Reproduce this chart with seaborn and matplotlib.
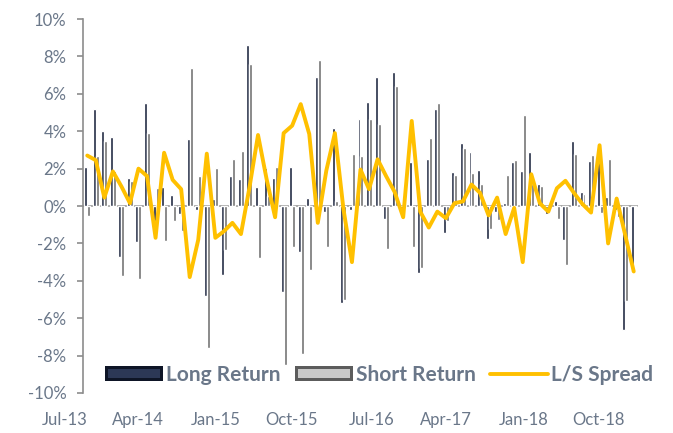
import numpy as np
import pandas as pd
import seaborn as sns
import matplotlib.pyplot as plt
from matplotlib.patches import Rectangle, Patch
from matplotlib.lines import Line2D
from matplotlib.legend_handler import HandlerBase

# monthly returns (%), Jul-13 .. Nov-18
months = pd.date_range('2013-07-01', periods=65, freq='MS').strftime('%b-%y').tolist()

long_ret = [2.1, 5.2, 4.0, 3.7, -2.7, 1.5, -1.9, 5.5, -0.8, 1.0,
            0.6, -0.45, 3.6, -0.2, -4.8, 0.35, -3.7, 1.6, 1.45, 8.6,
            1.0, 2.05, 1.5, -4.6, 2.1, -2.45, 0.45, 6.9, -0.3, 4.15,
            -5.2, -0.2, 4.65, 5.55, 6.9, -0.7, 7.15, -0.3, 2.35, -3.6,
            2.5, 5.2, -1.45, 1.8, 3.35, 2.9, 1.9, -1.75, -0.3, 0.15,
            2.35, 1.85, 2.9, 1.2, -0.4, 0.25, -1.8, 3.5, 0.75, 2.4,
            2.9, 0.5, -0.2, -6.65, -3.5]

short_ret = [-0.55, 2.7, 3.5, 1.85, -3.75, 1.35, -3.9, 3.9, 0.95, -1.85,
             -0.8, -1.35, 7.4, 1.6, -7.6, 2.05, -2.35, 2.5, 2.95, 7.6,
             -2.8, 0.55, 2.1, -8.5, -2.2, -7.9, -3.4, 7.8, -2.2, 0.25,
             -5.05, 2.8, 2.7, 4.65, 4.4, -2.3, 6.4, 0.3, -2.2, -3.3,
             3.65, 5.5, -0.8, 1.65, 3.1, 1.75, 1.2, -1.25, -0.75, 1.65,
             2.45, 4.85, 1.2, 1.05, -0.1, -0.7, -3.15, 2.8, 0.65, 2.75,
             -0.35, 2.5, -0.6, -5.1, 0.0]

spread = [2.7, 2.45, 0.45, 1.85, 1.05, 0.15, 2.0, 1.6, -1.7, 2.85,
          1.4, 0.9, -3.8, -1.8, 2.8, -1.7, -1.35, -0.9, -1.5, 1.0,
          3.8, 1.45, -0.6, 3.9, 4.3, 5.45, 3.85, -0.9, 1.9, 3.9,
          -0.15, -3.0, 1.95, 0.9, 2.5, 1.6, 0.75, -0.6, 4.55, -0.3,
          -1.15, -0.3, -0.65, 0.15, 0.25, 1.15, 0.7, -0.5, 0.45, -1.5,
          -0.1, -3.0, 1.7, 0.15, -0.3, 0.95, 1.35, 0.7, 0.1, -0.35,
          3.25, -2.0, 0.4, -1.55, -3.5]

df = pd.DataFrame({
    'month': months * 2,
    'ret': long_ret + short_ret,
    'series': ['Long Return'] * len(months) + ['Short Return'] * len(months),
})

sns.set_theme(style='white')
plt.rcParams['font.family'] = ['Lato', 'DejaVu Sans']

text_col = '#6a7789'
axis_col = '#8c8c8c'


class BevelHandler(HandlerBase):
    def __init__(self, edge, face):
        super().__init__()
        self.edge = edge
        self.face = face

    def create_artists(self, legend, orig_handle, xdescent, ydescent,
                       width, height, fontsize, trans):
        outer = Rectangle((-xdescent, -ydescent), width, height,
                          facecolor=self.edge, edgecolor='none', transform=trans)
        d = height * 0.2
        inner = Rectangle((-xdescent + d, -ydescent + d), width - 2 * d, height - 2 * d,
                          facecolor=self.face, edgecolor='none', transform=trans)
        return [outer, inner]


fig, ax = plt.subplots(figsize=(6.73, 4.33), dpi=100)
fig.subplots_adjust(left=0.1233, right=0.948, top=0.956, bottom=0.0924)

sns.barplot(data=df, x='month', y='ret', hue='series',
            palette={'Long Return': '#1e2740', 'Short Return': '#727272'},
            width=0.7, saturation=1, legend=False, ax=ax, zorder=2)
ax.axhline(0, color='#a6a6a6', lw=1.4, zorder=1)
sns.lineplot(x=np.arange(len(spread)), y=spread, color='#FFC000', lw=2.8,
             ax=ax, zorder=3)

ax.set_xlim(-0.5, len(months) - 0.5)
ax.set_ylim(-10, 10)
ax.set_yticks(range(-10, 11, 2))
ax.set_yticklabels([f'{v}%' for v in range(-10, 11, 2)])
ax.set_xticks(range(0, len(months), 9))
ax.set_xticklabels(months[::9], ha='right')
ax.set_xlabel('')
ax.set_ylabel('')

for s in ['top', 'right', 'bottom']:
    ax.spines[s].set_visible(False)
ax.spines['left'].set_color(axis_col)
ax.spines['left'].set_linewidth(1.2)
ax.tick_params(axis='y', left=True, length=4, width=1.2, color=axis_col,
               direction='out', pad=8, labelsize=12, labelcolor=text_col)
ax.tick_params(axis='x', length=0, pad=14, labelsize=12, labelcolor=text_col)

h_long = Patch(label='Long Return')
h_short = Patch(label='Short Return')
h_line = Line2D([], [], color='#FFC000', lw=2.8, label='L/S Spread')
leg = fig.legend(handles=[h_long, h_short, h_line], loc='center',
                 bbox_to_anchor=(0.563, 0.134), ncol=3, frameon=False,
                 prop={'weight': 'bold', 'size': 15}, labelcolor=text_col,
                 handlelength=2.8, handleheight=0.7, handletextpad=0.12,
                 columnspacing=0.7,
                 handler_map={h_long: BevelHandler('#0e1526', '#2c3856'),
                              h_short: BevelHandler('#5c5c5c', '#c9c9c9')})

plt.savefig('out.png', dpi=100)
